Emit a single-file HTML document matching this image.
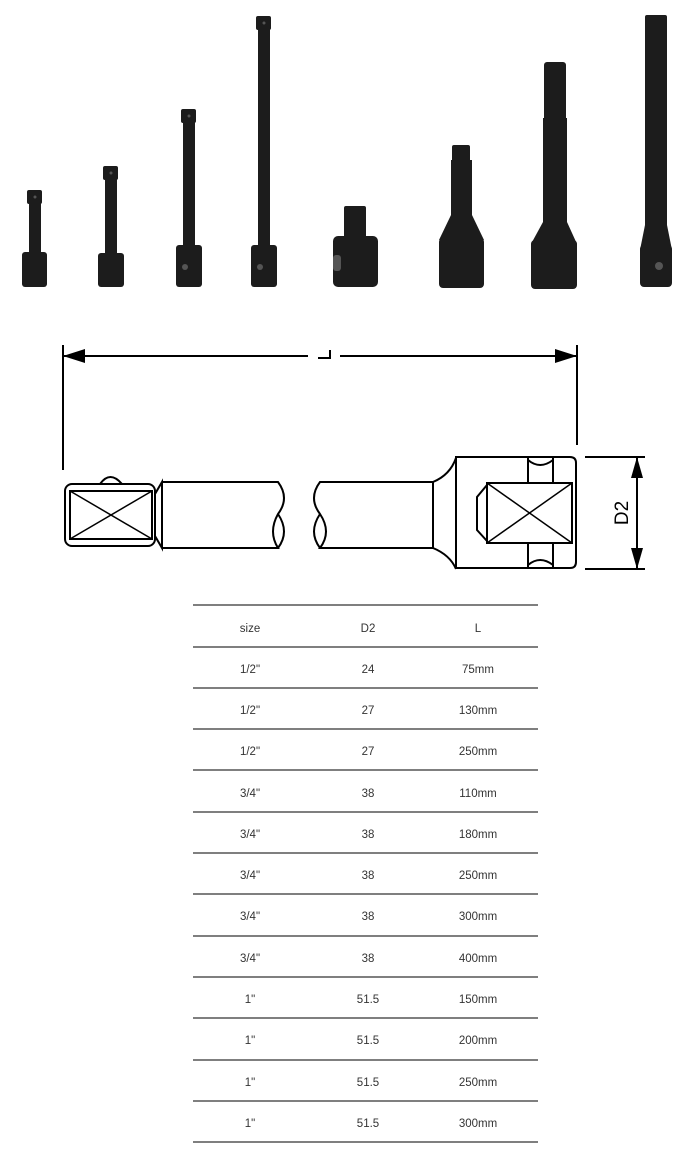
<!DOCTYPE html>
<html><head><meta charset="utf-8"><style>
html,body{margin:0;padding:0;background:#fff;}
svg{display:block}
</style></head><body>
<svg width="700" height="1171" viewBox="0 0 700 1171" xmlns="http://www.w3.org/2000/svg">
<g fill="#1c1c1c">
 <!-- tool 1 -->
 <rect x="27" y="190" width="15" height="14" rx="2"/>
 <rect x="29" y="200" width="12" height="55"/>
 <rect x="22" y="252" width="25" height="35" rx="3"/>
 <!-- tool 2 -->
 <rect x="103" y="166" width="15" height="14" rx="2"/>
 <rect x="105" y="176" width="12" height="80"/>
 <rect x="98" y="253" width="26" height="34" rx="3"/>
 <!-- tool 3 -->
 <rect x="181" y="109" width="15" height="14" rx="2"/>
 <rect x="183" y="119" width="12" height="130"/>
 <rect x="176" y="245" width="26" height="42" rx="3"/>
 <!-- tool 4 -->
 <rect x="256" y="16" width="15" height="14" rx="2"/>
 <rect x="258" y="26" width="12" height="222"/>
 <rect x="251" y="245" width="26" height="42" rx="3"/>
 <!-- tool 5 adapter -->
 <rect x="344" y="206" width="22" height="34" rx="2"/>
 <rect x="333" y="236" width="45" height="51" rx="5"/>
 <!-- tool 6 -->
 <rect x="452" y="145" width="18" height="20" rx="2"/>
 <rect x="451" y="160" width="21" height="58"/>
 <path d="M451 215 L472 215 L484 240 L439 240 Z"/>
 <rect x="439" y="238" width="45" height="50" rx="4"/>
 <!-- tool 7 -->
 <rect x="544" y="62" width="22" height="60" rx="3"/>
 <rect x="543" y="118" width="24" height="110"/>
 <path d="M543 222 L567 222 L577 244 L531 244 Z"/>
 <rect x="531" y="240" width="46" height="49" rx="4"/>
 <!-- tool 8 -->
 <rect x="645" y="15" width="22" height="235" rx="2"/>
 <path d="M645 225 L667 225 L672 250 L640 250 Z"/>
 <rect x="640" y="245" width="32" height="42" rx="4"/>
</g>
<g fill="#555">
 <circle cx="35" cy="197" r="1.5"/><circle cx="111" cy="173" r="1.5"/><circle cx="189" cy="116" r="1.5"/><circle cx="264" cy="23" r="1.5"/>
 <circle cx="185" cy="267" r="3"/><circle cx="260" cy="267" r="3"/><circle cx="659" cy="266" r="4"/>
 <rect x="333" y="255" width="8" height="16" rx="3"/>
</g>

<g stroke="#000" stroke-width="2" fill="none">
 <!-- L dimension -->
 <line x1="63" y1="345" x2="63" y2="470"/>
 <line x1="577" y1="345" x2="577" y2="445"/>
 <line x1="63" y1="356" x2="308" y2="356"/>
 <line x1="340" y1="356" x2="577" y2="356"/>
 <path d="M318 358 L330 358 L330 350"/>
 <!-- left drive -->
 <rect x="65" y="484" width="90" height="62" rx="7"/>
 <rect x="70" y="491" width="82" height="48"/>
 <line x1="70" y1="491" x2="152" y2="539" stroke-width="1.5"/>
 <line x1="70" y1="539" x2="152" y2="491" stroke-width="1.5"/>
 <path d="M100 484 Q110 470 122 484"/>
 <path d="M155 494 L162 482 L162 548 L155 536"/>
 <path d="M162 482 L278 482 Q290 498 278 514 Q268 532 278 548 L162 548"/>
 <path d="M278 514 Q290 532 278 548"/>
 <!-- right shaft -->
 <path d="M433 482 L320 482 Q308 498 320 514 Q332 532 320 548 L433 548 Z"/>
 <path d="M320 514 Q308 532 320 548"/>
 <path d="M433 482 Q450 475 456 458"/>
 <path d="M433 548 Q450 555 456 569"/>
 <!-- socket -->
 <path d="M456 457 L570 457 Q576 457 576 463 L576 562 Q576 568 570 568 L456 568 Z"/>
 <line x1="528" y1="457" x2="528" y2="568"/>
 <line x1="553" y1="457" x2="553" y2="568"/>
 <path d="M528 460 Q540 470 553 460"/>
 <path d="M528 565 Q540 555 553 565"/>
 <rect x="487" y="483" width="85" height="60" fill="#fff"/>
 <line x1="487" y1="483" x2="572" y2="543" stroke-width="1.5"/>
 <line x1="487" y1="543" x2="572" y2="483" stroke-width="1.5"/>
 <path d="M487 485 L477 497 L477 530 L487 541"/>
 <!-- D2 dimension -->
 <line x1="585" y1="457" x2="645" y2="457"/>
 <line x1="585" y1="569" x2="645" y2="569"/>
 <line x1="637" y1="457" x2="637" y2="569"/>
</g>
<g fill="#000">
 <path d="M63 356 L85 349 L85 363 Z"/>
 <path d="M577 356 L555 349 L555 363 Z"/>
 <path d="M637 457 L631 478 L643 478 Z"/>
 <path d="M637 569 L631 548 L643 548 Z"/>
</g>
<text x="0" y="0" transform="translate(628,513) rotate(-90)" text-anchor="middle" font-family="Liberation Sans, sans-serif" font-size="19">D2</text>

<g stroke="#333" stroke-width="1.3">
 <line x1="193" y1="605" x2="538" y2="605"/>
 <line x1="193" y1="647" x2="538" y2="647"/>
 <line x1="193" y1="688" x2="538" y2="688"/>
 <line x1="193" y1="729" x2="538" y2="729"/>
 <line x1="193" y1="770" x2="538" y2="770"/>
 <line x1="193" y1="812" x2="538" y2="812"/>
 <line x1="193" y1="853" x2="538" y2="853"/>
 <line x1="193" y1="894" x2="538" y2="894"/>
 <line x1="193" y1="936" x2="538" y2="936"/>
 <line x1="193" y1="977" x2="538" y2="977"/>
 <line x1="193" y1="1018" x2="538" y2="1018"/>
 <line x1="193" y1="1060" x2="538" y2="1060"/>
 <line x1="193" y1="1101" x2="538" y2="1101"/>
 <line x1="193" y1="1142" x2="538" y2="1142"/>
</g>
<g font-family="Liberation Sans, sans-serif" font-size="11.5" fill="#333" text-anchor="middle">
 <text x="250" y="632">size</text><text x="368" y="632">D2</text><text x="478" y="632">L</text>
 <text x="250" y="673">1/2"</text><text x="368" y="673">24</text><text x="478" y="673">75mm</text>
 <text x="250" y="714">1/2"</text><text x="368" y="714">27</text><text x="478" y="714">130mm</text>
 <text x="250" y="755">1/2"</text><text x="368" y="755">27</text><text x="478" y="755">250mm</text>
 <text x="250" y="797">3/4"</text><text x="368" y="797">38</text><text x="478" y="797">110mm</text>
 <text x="250" y="838">3/4"</text><text x="368" y="838">38</text><text x="478" y="838">180mm</text>
 <text x="250" y="879">3/4"</text><text x="368" y="879">38</text><text x="478" y="879">250mm</text>
 <text x="250" y="920">3/4"</text><text x="368" y="920">38</text><text x="478" y="920">300mm</text>
 <text x="250" y="962">3/4"</text><text x="368" y="962">38</text><text x="478" y="962">400mm</text>
 <text x="250" y="1003">1"</text><text x="368" y="1003">51.5</text><text x="478" y="1003">150mm</text>
 <text x="250" y="1044">1"</text><text x="368" y="1044">51.5</text><text x="478" y="1044">200mm</text>
 <text x="250" y="1086">1"</text><text x="368" y="1086">51.5</text><text x="478" y="1086">250mm</text>
 <text x="250" y="1127">1"</text><text x="368" y="1127">51.5</text><text x="478" y="1127">300mm</text>
</g>
</svg>
</body></html>
